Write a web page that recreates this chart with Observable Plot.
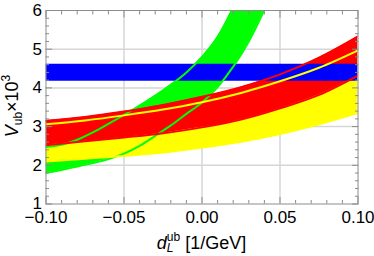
<!DOCTYPE html>
<html><head><meta charset="utf-8">
<script src="https://cdn.jsdelivr.net/npm/d3@7"></script>
<script src="https://cdn.jsdelivr.net/npm/@observablehq/plot@0.6"></script>
<style>html,body{margin:0;padding:0;background:#fff}#chart{width:374px;height:256px}</style>
</head><body><div id="chart"></div>
<script>
// ---- data ----
const xBand = [-0.1, -0.075, -0.05, -0.025, 0, 0.025, 0.05, 0.075, 0.1];
const redLow = [2.52, 2.62, 2.72, 2.83, 2.98, 3.18, 3.47, 3.82, 4.32];
const redHigh = [3.15, 3.25, 3.39, 3.56, 3.77, 4.02, 4.35, 4.78, 5.33];
const yellowLow = [2.10, 2.17, 2.24, 2.33, 2.46, 2.61, 2.81, 3.06, 3.35];
const yellowHigh = [3.06, 3.16, 3.29, 3.44, 3.63, 3.87, 4.17, 4.52, 4.97];
const xGreen = [-0.1, -0.09, -0.08, -0.07, -0.06, -0.05, -0.04, -0.03, -0.02, -0.01, 0, 0.01, 0.02, 0.03, 0.04];
const greenLow = [1.81, 1.88, 1.97, 2.06, 2.16, 2.30, 2.50, 2.76, 3.03, 3.33, 3.62, 4.02, 4.55, 5.20, 6.02];
const greenHigh = [2.47, 2.53, 2.66, 2.85, 3.07, 3.30, 3.54, 3.80, 4.08, 4.40, 4.80, 5.32, 6.08, 7.00, 8.30];
const blueBand = [4.17, 4.61];

// ---- ticks ----
const xMajor = [-0.1, -0.05, 0, 0.05, 0.1];
const xMinor = [-0.09, -0.08, -0.07, -0.06, -0.04, -0.03, -0.02, -0.01, 0.01, 0.02, 0.03, 0.04, 0.06, 0.07, 0.08, 0.09];
const yMajor = [1, 2, 3, 4, 5, 6];
const yMinor = [1.2, 1.4, 1.6, 1.8, 2.2, 2.4, 2.6, 2.8, 3.2, 3.4, 3.6, 3.8, 4.2, 4.4, 4.6, 4.8, 5.2, 5.4, 5.6, 5.8];
const gridX = [-0.05, 0, 0.05];
const gridY = [2, 3, 4, 5];

const GREEN = "#00ff00", YELLOW = "#ffff00", RED = "#ff0000", BLUE = "#0000ff";
const GRAY = "#8c8c8c";
const curve = "monotone-x";
const lw = 2;

const bandRows = xBand.map((x, i) => ({x, rLo: redLow[i], rHi: redHigh[i], yLo: yellowLow[i], yHi: yellowHigh[i], bLo: blueBand[0], bHi: blueBand[1]}));
const greenRows = xGreen.map((x, i) => ({x, lo: greenLow[i], hi: greenHigh[i]}));

const chart = Plot.plot({
  width: 374, height: 256,
  marginLeft: 45.5, marginRight: 16.5, marginTop: 10, marginBottom: 52.5,
  x: {domain: [-0.1, 0.1]},
  y: {domain: [1, 6]},
  style: {fontFamily: "'Liberation Sans', Arial, sans-serif", fontSize: "17px", color: "black", background: "white"},
  marks: [
    Plot.ruleX(gridX, {stroke: "#d6d6d6", strokeWidth: 1.5}),
    Plot.ruleY(gridY, {stroke: "#d6d6d6", strokeWidth: 1.5}),
    Plot.areaY(greenRows, {x: "x", y1: "lo", y2: "hi", fill: GREEN, curve, clip: true}),
    Plot.areaY(bandRows, {x: "x", y1: "yLo", y2: "yHi", fill: YELLOW, curve, clip: true}),
    Plot.areaY(bandRows, {x: "x", y1: "rLo", y2: "rHi", fill: RED, curve, clip: true}),
    Plot.areaY(bandRows, {x: "x", y1: "bLo", y2: "bHi", fill: BLUE, clip: true}),
    Plot.line(greenRows, {x: "x", y: "lo", stroke: GREEN, strokeWidth: lw, curve, clip: true}),
    Plot.line(greenRows, {x: "x", y: "hi", stroke: GREEN, strokeWidth: lw, curve, clip: true}),
    Plot.line(bandRows, {x: "x", y: "yLo", stroke: YELLOW, strokeWidth: lw, curve, clip: true}),
    Plot.line(bandRows, {x: "x", y: "yHi", stroke: YELLOW, strokeWidth: lw, curve, clip: true}),
    Plot.line(bandRows, {x: "x", y: "rLo", stroke: RED, strokeWidth: lw, curve, clip: true}),
    Plot.line(bandRows, {x: "x", y: "rHi", stroke: RED, strokeWidth: lw, curve, clip: true}),
    Plot.frame({stroke: GRAY}),
    // inward ticks on all four sides
    Plot.axisX({anchor: "bottom", ticks: xMajor, tickSize: -6.5, fill: "none", tickFormat: () => "", label: null, stroke: GRAY}),
    Plot.axisX({anchor: "bottom", ticks: xMinor, tickSize: -3.5, fill: "none", tickFormat: () => "", label: null, stroke: GRAY}),
    Plot.axisX({anchor: "top", ticks: xMajor, tickSize: -6.5, fill: "none", tickFormat: () => "", label: null, stroke: GRAY}),
    Plot.axisX({anchor: "top", ticks: xMinor, tickSize: -3.5, fill: "none", tickFormat: () => "", label: null, stroke: GRAY}),
    Plot.axisY({anchor: "left", ticks: yMajor, tickSize: -6.5, fill: "none", tickFormat: () => "", label: null, stroke: GRAY}),
    Plot.axisY({anchor: "left", ticks: yMinor, tickSize: -3.5, fill: "none", tickFormat: () => "", label: null, stroke: GRAY}),
    Plot.axisY({anchor: "right", ticks: yMajor, tickSize: -6.5, fill: "none", tickFormat: () => "", label: null, stroke: GRAY}),
    Plot.axisY({anchor: "right", ticks: yMinor, tickSize: -3.5, fill: "none", tickFormat: () => "", label: null, stroke: GRAY}),
    // tick labels
    Plot.axisX({anchor: "bottom", ticks: xMajor, tickSize: 0, tickPadding: 6.5, tickFormat: d3.format(".2f"), label: null}),
    Plot.axisY({anchor: "left", ticks: yMajor, tickSize: 0, tickPadding: 4, tickFormat: d3.format("d"), label: null})
  ]
});
document.getElementById("chart").appendChild(chart);

// ---- axis titles with sub/superscripts ----
const svg = d3.select(chart);
const font = "'Liberation Sans', Arial, sans-serif";
const cx = (45.5 + (374 - 16.5)) / 2;
// x title: d^{ub}_L [1/GeV]  (superscript and subscript stacked)
const tx = svg.append("text")
  .attr("font-family", font).attr("font-size", 18).attr("fill", "black")
  .attr("text-anchor", "middle")
  .attr("x", cx).attr("y", 249);
tx.append("tspan").attr("font-style", "italic").text("d");
tx.append("tspan").attr("font-size", 12).attr("dy", -8).text("ub");
tx.append("tspan").attr("font-size", 12).attr("font-style", "italic").attr("dx", -13.3).attr("dy", 10.5).text("L");
tx.append("tspan").attr("dx", 6.7 + 5).attr("dy", -2.5).text("[1/GeV]");

// y title: V_{ub} x 10^3
const ty = svg.append("text")
  .attr("font-family", font).attr("font-size", 18).attr("fill", "black")
  .attr("text-anchor", "middle")
  .attr("transform", "translate(18,106) rotate(-90)");
ty.append("tspan").attr("font-style", "italic").text("V");
ty.append("tspan").attr("font-size", 12).attr("dy", 4).text("ub");
ty.append("tspan").attr("dy", -4).text("×10");
ty.append("tspan").attr("font-size", 12).attr("dy", -8).text("3");
</script>
</body></html>
